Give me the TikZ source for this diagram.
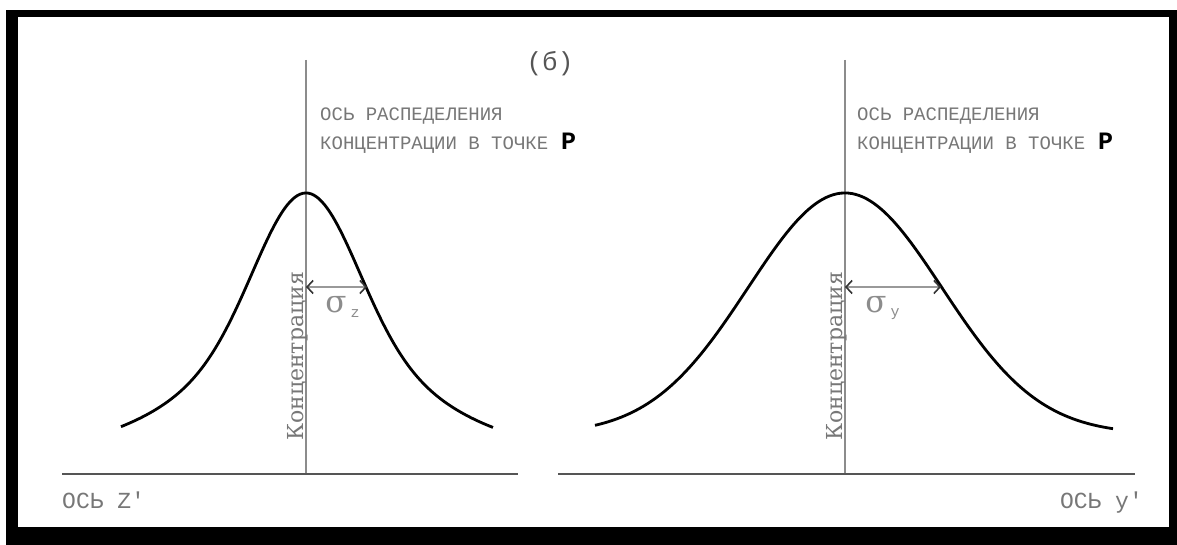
\documentclass[tikz,border=0pt]{standalone}
\usepackage{fontspec}
\setmainfont{Liberation Serif}
\newfontfamily\monof{Liberation Mono}
\newfontfamily\vertf{DejaVu Serif}
\newfontfamily\sigf{DejaVu Serif}
\usetikzlibrary{arrows.meta}
\definecolor{txtgray}{HTML}{777777}
\definecolor{axgray}{HTML}{8C8C8C}
\definecolor{hgray}{HTML}{555555}
\tikzset{
  curve/.style={line width=2.8pt, black, line join=round},
  vaxis/.style={line width=1.1pt, axgray},
  haxis/.style={line width=1.1pt, hgray},
  sigarrow/.style={line width=1.3pt, black!40,
    {Straight Barb[length=6pt,width=13pt,line width=1.6pt,color=black!80]}-{Straight Barb[length=6pt,width=13pt,line width=1.6pt,color=black!80]}},
  toplbl/.style={font=\monof\fontsize{19}{22}\selectfont, text=txtgray, anchor=base west, inner sep=0pt},
  axlbl/.style={font=\monof\fontsize{23}{26}\selectfont, text=txtgray, inner sep=0pt},
  conc/.style={font=\vertf\fontsize{22}{24}\selectfont, text=txtgray, rotate=90, anchor=base west, inner sep=0pt},
  sig/.style={font=\sigf\fontsize{31}{32}\selectfont, text=axgray, anchor=base, inner sep=0pt},
  sub/.style={font=\monof\fontsize{15}{16}\selectfont, text=axgray, anchor=base, inner sep=0pt},
  bigP/.style={font=\monof\bfseries\fontsize{25}{26}\selectfont, text=black, anchor=base west, inner sep=0pt}
}
\begin{document}
\begin{tikzpicture}[x=1pt,y=-1pt]
\useasboundingbox (0,0) rectangle (1177,545);
% frame
\fill[white] (0,0) rectangle (1177,545);
\fill[black] (6,10) rectangle (1177,545);
\fill[white] (18,17) rectangle (1169,527);
% coordinates
\coordinate (lvt) at (306,60);
\coordinate (lvb) at (306,474);
\coordinate (lh0) at (62,474);
\coordinate (lh1) at (518,474);
\coordinate (rvt) at (845,60);
\coordinate (rvb) at (845,474);
\coordinate (rh0) at (558,474);
\coordinate (rh1) at (1135,474);
\coordinate (la0) at (306,287);
\coordinate (la1) at (367,287);
\coordinate (ra0) at (845,287);
\coordinate (ra1) at (941,287);
% axes
\draw[vaxis] (lvt) -- (lvb);
\draw[vaxis] (rvt) -- (rvb);
\draw[haxis] (lh0) -- (lh1);
\draw[haxis] (rh0) -- (rh1);
% curves
\draw[curve] plot[domain=-185:187, samples=140, smooth]
  ({306+\x}, {193+259*(1-0.6*exp(-0.5*(\x/50)^2)-0.4*exp(-0.5*(\x/110)^2))});
\draw[curve] plot[domain=-250:268, samples=140, smooth]
  ({845+\x}, {434-241*exp(-0.5*(\x/97)^2)});
% sigma arrows
\draw[sigarrow] (la0) -- (la1);
\draw[sigarrow] (ra0) -- (ra1);
% labels
\node[font=\monof\fontsize{26}{28}\selectfont, text=hgray, anchor=base, inner sep=0pt] (title) at (550,71) {(б)};
\node[toplbl] (lt1) at (320,121) {ОСЬ РАСПЕДЕЛЕНИЯ};
\node[toplbl] (lt2) at (320,150) {КОНЦЕНТРАЦИИ В ТОЧКЕ };
\node[bigP] (lP) at (561,150) {P};
\node[toplbl] (rt1) at (857,121) {ОСЬ РАСПЕДЕЛЕНИЯ};
\node[toplbl] (rt2) at (857,150) {КОНЦЕНТРАЦИИ В ТОЧКЕ };
\node[bigP] (rP) at (1098,150) {P};
\node[conc] (lc) at (303,441) {Концентрация};
\node[conc] (rc) at (842,441) {Концентрация};
\node[sig] (lsig) at (336,312) {σ};
\node[sub] (lsub) at (355,317) {z};
\node[sig] (rsig) at (876,312) {σ};
\node[sub] (rsub) at (895,316) {y};
\node[axlbl, anchor=base west] (lax) at (62,508) {ОСЬ Z'};
\node[axlbl, anchor=base east] (rax) at (1143,508) {ОСЬ y'};
\end{tikzpicture}
\end{document}
